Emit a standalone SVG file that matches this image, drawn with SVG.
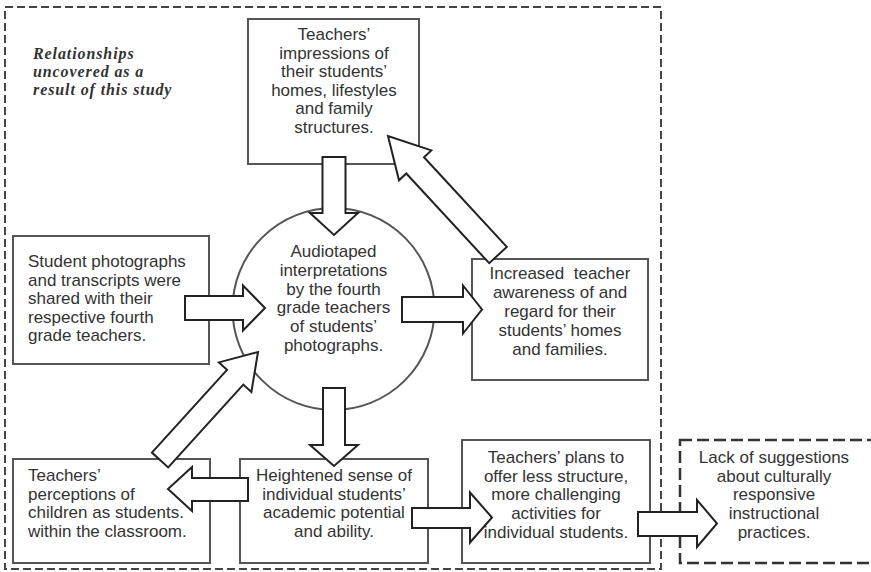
<svg xmlns="http://www.w3.org/2000/svg" width="871" height="572" viewBox="0 0 871 572">
<style>
  .box { fill: #ffffff; stroke: #555555; stroke-width: 2; }
  .frame { fill: none; stroke: #444444; stroke-width: 2; stroke-dasharray: 8 4; }
  .dbox { fill: #ffffff; stroke: #333333; stroke-width: 2.5; stroke-dasharray: 12 5; }
  .t { font-family: "Liberation Sans", Arial, sans-serif; font-size: 17px; fill: #333333; }
  .c { text-anchor: middle; }
  .lbl { font-family: "Liberation Serif", "Times New Roman", serif; font-size: 16px; letter-spacing: 0.9px; font-weight: bold; font-style: italic; fill: #333333; }
  .arrow { fill: #ffffff; stroke: #222222; stroke-width: 2; stroke-linejoin: miter; }
</style>
<rect width="871" height="572" fill="#ffffff"/>
<rect class="frame" x="5" y="7" width="656" height="562"/>
<text class="lbl"><tspan x="33" y="59">Relationships</tspan><tspan x="33" y="77">uncovered as a</tspan><tspan x="33" y="95">result of this study</tspan></text>

<g id="node-impressions">
  <rect class="box" x="248" y="19" width="171" height="145"/>
  <text class="t c"><tspan x="334" y="40">Teachers’</tspan><tspan x="334" y="58.5">impressions of</tspan><tspan x="334" y="77">their students’</tspan><tspan x="334" y="95.5">homes, lifestyles</tspan><tspan x="334" y="114">and family</tspan><tspan x="334" y="132.5">structures.</tspan></text>
</g>
<g id="node-audiotaped">
  <circle class="box" cx="333.5" cy="309" r="101"/>
  <text class="t c"><tspan x="333.5" y="257">Audiotaped</tspan><tspan x="333.5" y="275.8">interpretations</tspan><tspan x="333.5" y="294.6">by the fourth</tspan><tspan x="333.5" y="313.4">grade teachers</tspan><tspan x="333.5" y="332.2">of students’</tspan><tspan x="333.5" y="351">photographs.</tspan></text>
</g>
<g id="node-photographs">
  <rect class="box" x="13" y="236" width="196" height="128"/>
  <text class="t"><tspan x="28" y="267">Student photographs</tspan><tspan x="28" y="285.5">and transcripts were</tspan><tspan x="28" y="304">shared with their</tspan><tspan x="28" y="322.5">respective fourth</tspan><tspan x="28" y="341">grade teachers.</tspan></text>
</g>
<g id="node-awareness">
  <rect class="box" x="472" y="259" width="176" height="121"/>
  <text class="t c" xml:space="preserve"><tspan x="560" y="279">Increased  teacher</tspan><tspan x="560" y="298">awareness of and</tspan><tspan x="560" y="317">regard for their</tspan><tspan x="560" y="336">students’ homes</tspan><tspan x="560" y="355">and families.</tspan></text>
</g>
<g id="node-perceptions">
  <rect class="box" x="13" y="459" width="197" height="104"/>
  <text class="t"><tspan x="28" y="481">Teachers’</tspan><tspan x="28" y="499.7">perceptions of</tspan><tspan x="28" y="518.4">children as students.</tspan><tspan x="28" y="537.1">within the classroom.</tspan></text>
</g>
<g id="node-heightened">
  <rect class="box" x="240" y="459" width="188" height="104"/>
  <text class="t c"><tspan x="334" y="481">Heightened sense of</tspan><tspan x="334" y="499.7">individual students’</tspan><tspan x="334" y="518.4">academic potential</tspan><tspan x="334" y="537.1">and ability.</tspan></text>
</g>
<g id="node-plans">
  <rect class="box" x="462" y="440" width="188" height="123"/>
  <text class="t c"><tspan x="556" y="463">Teachers’ plans to</tspan><tspan x="556" y="481.7">offer less structure,</tspan><tspan x="556" y="500.4">more challenging</tspan><tspan x="556" y="519.1">activities for</tspan><tspan x="556" y="537.8">individual students.</tspan></text>
</g>
<g id="node-lack">
  <rect class="dbox" x="680" y="440" width="220" height="123"/>
  <text class="t c"><tspan x="774" y="463">Lack of suggestions</tspan><tspan x="774" y="481.7">about culturally</tspan><tspan x="774" y="500.4">responsive</tspan><tspan x="774" y="519.1">instructional</tspan><tspan x="774" y="537.8">practices.</tspan></text>
</g>

<g id="connectors">
  <polygon class="arrow" points="322.5,157 345.5,157 345.5,213 358,213 334,235 310,213 322.5,213"/>
  <polygon class="arrow" points="185,296 243,296 243,285.5 265,308 243,330.5 243,320 185,320"/>
  <polygon class="arrow" points="402,297 463,297 463,285.5 482,309.5 463,333.5 463,322 402,322"/>
  <polygon class="arrow" points="506.8,246.9 424,157.2 431.3,150.4 388,136 399,180.3 406.3,173.5 489.2,263.2"/>
  <polygon class="arrow" points="168.2,467.4 243.3,384.6 251.4,392 258,352 218.9,362.4 227,369.8 151.9,452.6"/>
  <polygon class="arrow" points="323,388 345,388 345,445 358,445 334,466 310,445 323,445"/>
  <polygon class="arrow" points="248,478 192,478 192,467 168,489 192,511 192,501 248,501"/>
  <polygon class="arrow" points="412,508 470,508 470,492.5 492,517.5 470,542.5 470,528 412,528"/>
  <polygon class="arrow" points="638,512 697,512 697,500 717,523.5 697,547 697,536 638,536"/>
</g>
</svg>
